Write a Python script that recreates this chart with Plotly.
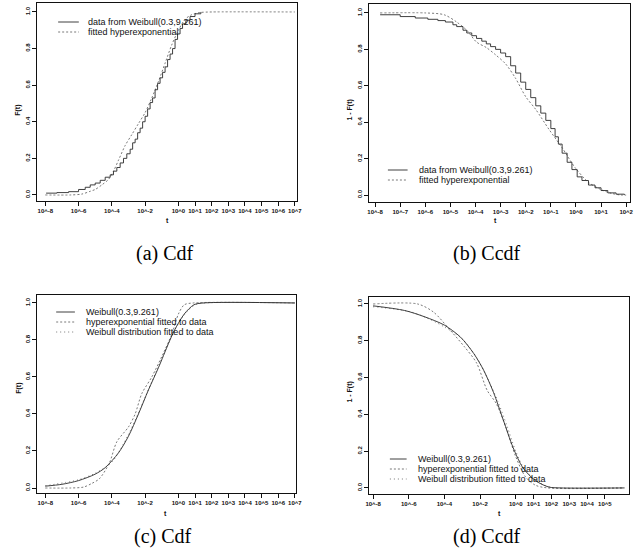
import plotly.graph_objects as go

W, H = 641, 556

# ---------------- data (log10 t, probability) ----------------
# (a) Cdf
a_data_logt = [-7.95, -7.3, -6.6, -6.0, -5.6, -5.3, -5.0, -4.7, -4.4, -4.1, -3.9, -3.7, -3.5, -3.3,
               -3.1, -2.9, -2.75, -2.6, -2.45, -2.3, -2.15, -2.0, -1.85, -1.7, -1.55, -1.4, -1.25,
               -1.1, -0.95, -0.8, -0.65, -0.5, -0.35, -0.2, -0.05, 0.1, 0.25, 0.45, 0.7, 1.0, 1.35]
a_data_F = [0.010, 0.013, 0.018, 0.030, 0.042, 0.055, 0.065, 0.080, 0.097, 0.110, 0.130, 0.150, 0.175,
            0.200, 0.225, 0.250, 0.285, 0.305, 0.340, 0.365, 0.400, 0.430, 0.470, 0.505, 0.530, 0.575,
            0.610, 0.640, 0.670, 0.700, 0.740, 0.770, 0.800, 0.850, 0.880, 0.910, 0.935, 0.955, 0.975,
            0.990, 1.000]
a_hyp_logt = [-8.0, -6.5, -5.8, -5.3, -5.0, -4.6, -4.2, -3.9, -3.6, -3.2, -2.8, -2.4, -2.0, -1.6,
              -1.2, -0.8, -0.4, 0.0, 0.4, 0.8, 1.3, 2.0, 7.0]
a_hyp_F = [0.0, 0.0, 0.005, 0.02, 0.03, 0.055, 0.085, 0.13, 0.19, 0.27, 0.33, 0.39, 0.45, 0.53,
           0.62, 0.72, 0.82, 0.90, 0.96, 0.985, 0.997, 1.0, 1.0]

# (b) Ccdf
b_data_logt = [-7.8, -7.0, -6.4, -5.9, -5.5, -5.2, -4.9, -4.75, -4.5, -4.35, -4.15, -3.96, -3.75,
               -3.57, -3.4, -3.2, -3.0, -2.8, -2.6, -2.4, -2.2, -2.0, -1.8, -1.6, -1.4, -1.2, -1.0,
               -0.83, -0.7, -0.55, -0.35, -0.16, 0.05, 0.24, 0.5, 0.76, 1.0, 1.27, 1.6, 1.93]
b_data_S = [0.990, 0.980, 0.972, 0.965, 0.958, 0.950, 0.935, 0.925, 0.905, 0.890, 0.875, 0.860,
            0.845, 0.830, 0.815, 0.800, 0.780, 0.760, 0.710, 0.670, 0.620, 0.580, 0.535, 0.490,
            0.450, 0.410, 0.365, 0.320, 0.280, 0.230, 0.180, 0.140, 0.100, 0.080, 0.055, 0.040,
            0.025, 0.012, 0.005, 0.0]
b_hyp_logt = [-7.8, -6.0, -5.25, -4.75, -4.35, -3.96, -3.57, -3.2, -2.8, -2.4, -2.0, -1.6, -1.07,
              -0.55, -0.03, 0.5, 1.0, 1.4, 1.8, 2.0]
b_hyp_S = [1.0, 1.0, 0.99, 0.95, 0.905, 0.84, 0.81, 0.77, 0.72, 0.64, 0.54, 0.47, 0.36,
           0.26, 0.15, 0.07, 0.03, 0.01, 0.0, 0.0]

# (c) Cdf
c_weib_logt = [-8.0, -7.0, -6.0, -5.0, -4.4, -3.6, -3.0, -2.4, -1.8, -1.2, -0.6, -0.25, 0.35, 0.93, 1.5, 7.0]
c_weib_F = [0.01, 0.02, 0.04, 0.075, 0.11, 0.19, 0.28, 0.40, 0.53, 0.65, 0.78, 0.85, 0.94, 0.99, 1.0, 1.0]
c_hyp_logt = [-8.0, -6.5, -5.7, -5.2, -4.75, -4.15, -3.7, -3.0, -2.6, -2.2, -1.6, -1.0, -0.4, 0.0, 0.35, 0.9, 7.0]
c_hyp_F = [0.0, 0.0, 0.005, 0.025, 0.05, 0.135, 0.25, 0.33, 0.40, 0.51, 0.60, 0.71, 0.83, 0.94, 0.99, 1.0, 1.0]
c_wfit_logt = [-8.0, -6.0, -5.0, -4.0, -3.0, -2.0, -1.0, -0.3, 0.3, 1.0, 1.6, 7.0]
c_wfit_F = [0.012, 0.045, 0.08, 0.14, 0.29, 0.49, 0.70, 0.84, 0.93, 0.99, 1.0, 1.0]

# (d) Ccdf
d_weib_logt = [-8.0, -6.25, -5.1, -4.0, -3.1, -2.35, -1.8, -1.25, -0.7, -0.15, 0.4, 1.1, 1.85, 2.5, 6.1]
d_weib_S = [0.99, 0.965, 0.93, 0.885, 0.82, 0.73, 0.64, 0.52, 0.37, 0.22, 0.11, 0.04, 0.005, 0.0, 0.0]
d_hyp_logt = [-8.0, -5.5, -4.6, -3.7, -2.9, -2.2, -1.6, -1.1, -0.55, 0.0, 0.55, 1.1, 1.8, 6.1]
d_hyp_S = [1.0, 1.0, 0.955, 0.86, 0.77, 0.68, 0.53, 0.46, 0.33, 0.17, 0.06, 0.015, 0.0, 0.0]
d_wfit_logt = [-8.0, -6.0, -5.0, -4.0, -3.0, -2.2, -1.5, -1.0, -0.5, 0.0, 0.5, 1.2, 2.0, 2.6, 6.1]
d_wfit_S = [0.985, 0.96, 0.925, 0.875, 0.81, 0.71, 0.58, 0.47, 0.34, 0.20, 0.10, 0.035, 0.003, 0.0, 0.0]

# ticks
xticks_ac = [-8, -6, -4, -2, 0, 1, 2, 3, 4, 5, 6, 7]
xticks_b = [-8, -7, -6, -5, -4, -3, -2, -1, 0, 1, 2]
xticks_d = [-8, -6, -4, -2, 0, 1, 2, 3, 4, 5]
yticks = [0.0, 0.2, 0.4, 0.6, 0.8, 1.0]
ytick_text = ["0.0", "0.2", "0.4", "0.6", "0.8", "1.0"]

legend_ab = ["data from Weibull(0.3,9.261)", "fitted hyperexponential"]
legend_cd = ["Weibull(0.3,9.261)", "hyperexponential fitted to data", "Weibull distribution fitted to data"]
captions = ["(a) Cdf", "(b) Ccdf", "(c) Cdf", "(d) Ccdf"]

# ---------------- layout helpers ----------------
def fx(p):
    return p / W

def fy(p):
    return 1 - p / H

SOLID = "#2a2a2a"
DOT = "#6a6a6a"
TICKFONT = dict(family="Liberation Sans", size=6, color="#111", weight="bold")

panels = {
    # name: (xpix, ypix, xrange, yrange, xticks)
    "": ((34, 298), (3, 201), [-8.47, 7.15], [-0.033, 1.049], xticks_ac),
    "2": ((371, 636), (4, 202), [-8.235, 2.157], [-0.038, 1.049], xticks_b),
    "3": ((34, 297), (295, 493), [-8.47, 7.09], [-0.027, 1.043], xticks_ac),
    "4": ((371, 635), (297, 494), [-8.22, 6.36], [-0.033, 1.038], xticks_d),
}

fig = go.Figure()

def add(x, y, ax, dash, color, shape="linear", width=0.9):
    line = dict(color=color, width=width, dash=dash, shape=shape)
    if shape == "spline":
        line["smoothing"] = 0.8
    fig.add_trace(go.Scatter(
        x=x, y=y, mode="lines", xaxis="x" + ax, yaxis="y" + ax,
        line=line, showlegend=False, hoverinfo="skip"))

add(a_hyp_logt, a_hyp_F, "", "2px,2px", DOT, "spline")
add(a_data_logt, a_data_F, "", "solid", SOLID, "hv")
add(b_hyp_logt, b_hyp_S, "2", "2px,2px", DOT, "spline")
add(b_data_logt, b_data_S, "2", "solid", SOLID, "hv")
add(c_hyp_logt, c_hyp_F, "3", "2px,2px", DOT, "spline")
add(c_wfit_logt, c_wfit_F, "3", "1px,3px", DOT, "spline")
add(c_weib_logt, c_weib_F, "3", "solid", SOLID, "spline")
add(d_hyp_logt, d_hyp_S, "4", "2px,2px", DOT, "spline")
add(d_wfit_logt, d_wfit_S, "4", "1px,3px", DOT, "spline")
add(d_weib_logt, d_weib_S, "4", "solid", SOLID, "spline")

layout = dict(
    width=W, height=H, margin=dict(l=0, r=0, t=0, b=0),
    paper_bgcolor="white", plot_bgcolor="white", showlegend=False,
)
for name, (xp, yp, xr, yr, xt) in panels.items():
    layout["xaxis" + name] = dict(
        domain=[fx(xp[0]), fx(xp[1])], range=xr, anchor="y" + name,
        tickmode="array", tickvals=xt, ticktext=["10^%d" % v for v in xt],
        ticks="outside", ticklen=4, tickwidth=1, tickcolor="#111",
        showline=True, linecolor="#111", linewidth=1, mirror=True,
        showgrid=False, zeroline=False, tickfont=TICKFONT, tickangle=0,
    )
    layout["yaxis" + name] = dict(
        domain=[fy(yp[1]), fy(yp[0])], range=yr, anchor="x" + name,
        tickmode="array", tickvals=yticks, ticktext=ytick_text,
        ticks="outside", ticklen=4, tickwidth=1, tickcolor="#111",
        showline=True, linecolor="#111", linewidth=1, mirror=True,
        showgrid=False, zeroline=False, tickfont=TICKFONT, tickangle=-90,
    )
fig.update_layout(**layout)

annotations = []
shapes = []
LEGFONT = dict(family="Liberation Sans", size=9, color="#111")
AXFONT = dict(family="Liberation Sans", size=7, color="#111", weight="bold")

def text(x, y, s, font, xanchor="center", angle=0):
    annotations.append(dict(x=fx(x), y=fy(y), xref="paper", yref="paper", text=s,
                            showarrow=False, font=font, xanchor=xanchor, yanchor="middle",
                            textangle=angle))

def sample(x0, x1, y, dash, color):
    shapes.append(dict(type="line", xref="paper", yref="paper", x0=fx(x0), x1=fx(x1),
                       y0=fy(y), y1=fy(y), line=dict(color=color, width=0.9, dash=dash)))

# legends
for i, (lab, dash, col) in enumerate(zip(legend_ab, ["solid", "2px,2px"], [SOLID, DOT])):
    sample(55, 76, 22 + 10 * i, dash, col)
    text(83, 22 + 10 * i, lab, LEGFONT, "left")
    sample(390, 410, 170 + 10 * i, dash, col)
    text(420, 170 + 10 * i, lab, LEGFONT, "left")
for i, (lab, dash, col) in enumerate(zip(legend_cd, ["solid", "2px,2px", "1px,3px"], [SOLID, DOT, DOT])):
    sample(53, 72, 312 + 10 * i, dash, col)
    text(81, 312 + 10 * i, lab, LEGFONT, "left")
    sample(392, 409, 459 + 10 * i, dash, col)
    text(419, 459 + 10 * i, lab, LEGFONT, "left")

# axis titles
text(14, 110, "F(t)", AXFONT, angle=-90)
text(351, 110, "1 - F(t)", AXFONT, angle=-90)
text(15, 388, "F(t)", AXFONT, angle=-90)
text(351, 392, "1 - F(t)", AXFONT, angle=-90)
text(166, 221, "t", AXFONT)
text(499, 221, "t", AXFONT)
text(164, 513, "t", AXFONT)
text(503, 513, "t", AXFONT)

# captions
CAPFONT = dict(family="Liberation Serif", size=20, color="#000")
text(164, 253, captions[0], CAPFONT)
text(491, 253, captions[1], CAPFONT)
text(162, 536, captions[2], CAPFONT)
text(491, 536, captions[3], CAPFONT)

fig.update_layout(annotations=annotations, shapes=shapes)
fig.write_html("out.html")
